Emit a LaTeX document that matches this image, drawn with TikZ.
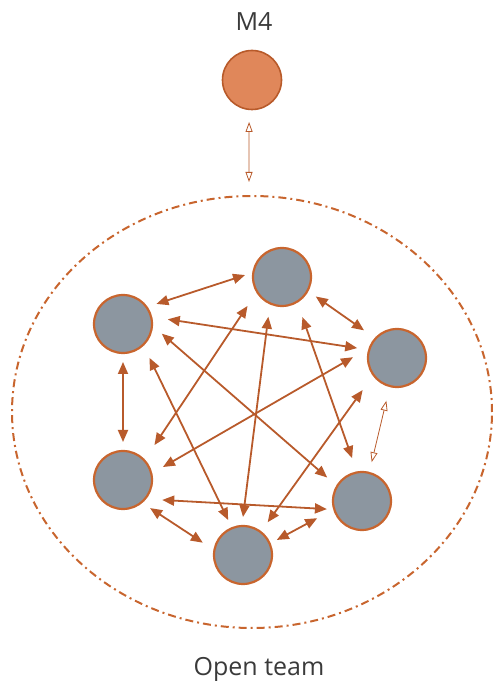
\documentclass[tikz,border=0pt]{standalone}
\usepackage{fontspec}
\setmainfont{Open Sans}
\usetikzlibrary{arrows.meta,calc,shapes.geometric}
\definecolor{edgec}{HTML}{B85A2B}
\definecolor{ringc}{HTML}{C8652E}
\definecolor{memberfill}{HTML}{8C96A0}
\definecolor{mgrfill}{HTML}{E0875A}
\definecolor{mgrring}{HTML}{B85A2A}
\definecolor{txtc}{HTML}{3A3A3A}
\tikzset{
  member/.style={circle,draw=ringc,line width=2.2pt,fill=memberfill,minimum size=58pt,inner sep=0pt},
  manager/.style={circle,draw=mgrring,line width=1.6pt,fill=mgrfill,minimum size=59pt,inner sep=0pt},
  arr/.style={draw=edgec,line width=1.8pt,{Triangle[length=12pt,width=10pt]}-{Triangle[length=12pt,width=10pt]}},
  openarr/.style={draw=edgec,line width=0.8pt,{Triangle[open,length=10pt,width=7pt,line width=0.8pt]}-{Triangle[open,length=10pt,width=7pt,line width=0.8pt]}},
  teamring/.style={ellipse,draw=ringc,line width=2pt,dash pattern=on 8pt off 4pt on 2pt off 4pt,minimum width=480pt,minimum height=432pt,inner sep=0pt},
  lbl/.style={text=txtc,font=\fontsize{25}{30}\selectfont,inner sep=0pt}
}
\begin{document}
\begin{tikzpicture}[x=1pt,y=1pt]
\useasboundingbox (0,0) rectangle (493,688);
\node[teamring] (team) at (252,276) {};
\node[lbl] (mlabel) at (254,666) {M4};
\node[manager] (M) at (252,608) {};
\node[member] (T) at (282,411) {};
\node[member] (UL) at (123,364) {};
\node[member] (R) at (397,330) {};
\node[member] (L) at (123,208) {};
\node[member] (LR) at (362,187) {};
\node[member] (B) at (243,133) {};
\node[lbl] (title) at (259,19) {Open team};
% manager link
\draw[openarr] ($(M)+(-94:42pt)$) -- ($(team.north)+(-3pt,13pt)$);
% team links
\draw[arr] ($(UL)+(31:39pt)$) -- ($(T)+(177:37pt)$);
\draw[arr] ($(UL)+(6:45pt)$) -- ($(R)+(166:41pt)$);
\draw[arr] ($(UL)+(-14:40pt)$) -- ($(LR)+(146:42pt)$);
\draw[arr] ($(UL)+(-90:38pt)$) -- ($(L)+(90:38pt)$);
\draw[arr] ($(UL)+(-52:43pt)$) -- ($(B)+(113:38pt)$);
\draw[arr] ($(T)+(-30:39pt)$) -- ($(R)+(140:43pt)$);
\draw[arr] ($(T)+(-140:45pt)$) -- ($(L)+(48:47pt)$);
\draw[arr] ($(T)+(-109:42pt)$) -- ($(B)+(90:38pt)$);
\draw[arr] ($(T)+(-63:45pt)$) -- ($(LR)+(103:44pt)$);
\draw[arr] ($(R)+(179:44pt)$) -- ($(L)+(18:42pt)$);
\draw[arr] ($(R)+(-137:47pt)$) -- ($(B)+(53:41pt)$);
\draw[openarr] ($(R)+(-104:44pt)$) -- ($(LR)+(76:40pt)$);
\draw[arr] ($(L)+(-27:44pt)$) -- ($(LR)+(193:36pt)$);
\draw[arr] ($(L)+(-46:39pt)$) -- ($(B)+(163:42pt)$);
\draw[arr] ($(B)+(24:37pt)$) -- ($(LR)+(201:48pt)$);
\end{tikzpicture}
\end{document}
